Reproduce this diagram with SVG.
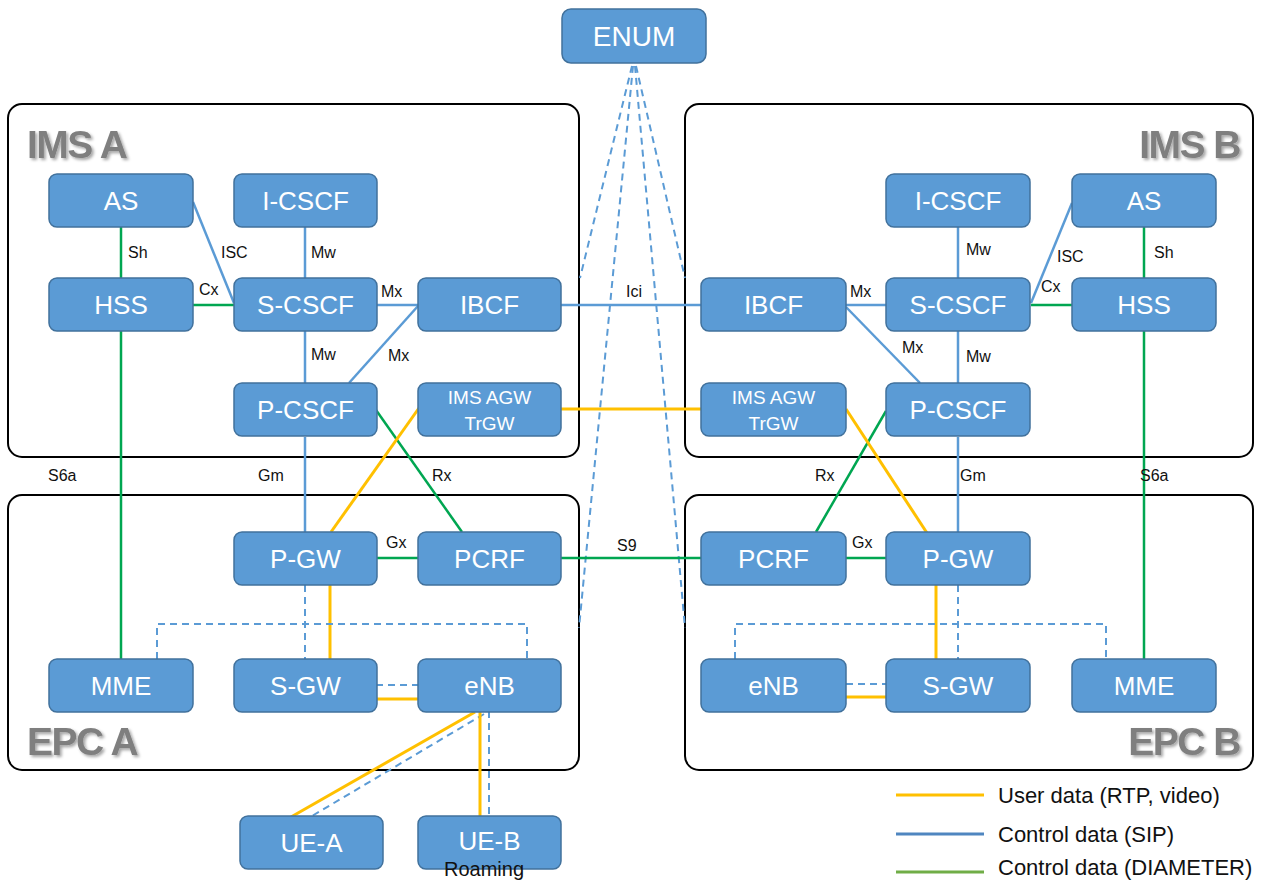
<svg xmlns="http://www.w3.org/2000/svg" width="1274" height="880" viewBox="0 0 1274 880">
<defs>
<style>
.box{fill:#fff;stroke:#000;stroke-width:2}
.node rect{fill:#5B9BD5;stroke:#41719C;stroke-width:1.5}
.node text{fill:#fff;font-family:'Liberation Sans',Arial,sans-serif;font-size:26px;text-anchor:middle}
.node text.sm{font-size:19px}
.title{fill:#7f7f7f;font-family:'Liberation Sans',Arial,sans-serif;font-weight:bold;font-size:39px;letter-spacing:-1.5px}
.lbl{font-family:'Liberation Sans',Arial,sans-serif;font-size:16px;fill:#111}
.leg{font-family:'Liberation Sans',Arial,sans-serif;font-size:22px;fill:#111}
.sip{stroke:#5B9BD5;stroke-width:2.5;fill:none}
.dia{stroke:#00A651;stroke-width:2.5;fill:none}
.usr{stroke:#FFC000;stroke-width:3;fill:none}
.dash{stroke:#5B9BD5;stroke-width:2;stroke-dasharray:7 5;fill:none}
</style>
<filter id="sh" x="-10%" y="-20%" width="130%" height="150%">
<feDropShadow dx="2" dy="2" stdDeviation="1.5" flood-color="#000" flood-opacity="0.35"/>
</filter>
</defs>
<rect width="1274" height="880" fill="#fff"/>

<g id="containers">
<rect class="box" x="8" y="104" width="571" height="353" rx="14"/>
<rect class="box" x="685" y="104" width="568" height="353" rx="14"/>
<rect class="box" x="8" y="495" width="571" height="275" rx="14"/>
<rect class="box" x="685" y="495" width="568" height="275" rx="14"/>
<text class="title" x="27" y="158" filter="url(#sh)">IMS A</text>
<text class="title" x="1240" y="158" text-anchor="end" filter="url(#sh)">IMS B</text>
<text class="title" x="27" y="755" filter="url(#sh)">EPC A</text>
<text class="title" x="1240" y="755" text-anchor="end" filter="url(#sh)">EPC B</text>
</g>

<g id="connectors">
<line class="dash" x1="632" y1="66" x2="580" y2="278"/>
<line class="dash" x1="633" y1="66" x2="579" y2="628"/>
<line class="dash" x1="635" y1="66" x2="685" y2="628"/>
<line class="dash" x1="636" y1="66" x2="685" y2="278"/>
<line class="dia" x1="121" y1="227" x2="121" y2="279"/>
<line class="sip" x1="193" y1="202" x2="234" y2="303"/>
<line class="dia" x1="192" y1="305" x2="234" y2="305"/>
<line class="sip" x1="305" y1="226" x2="305" y2="278"/>
<line class="sip" x1="376" y1="305" x2="418" y2="305"/>
<line class="sip" x1="349" y1="383" x2="418" y2="306"/>
<line class="sip" x1="305" y1="331" x2="305" y2="383"/>
<line class="dia" x1="121" y1="331" x2="121" y2="659"/>
<line class="sip" x1="305" y1="437" x2="305" y2="532"/>
<line class="dia" x1="376" y1="410" x2="462" y2="532"/>
<line class="usr" x1="419" y1="408" x2="331" y2="532"/>
<line class="sip" x1="561" y1="305" x2="701" y2="305"/>
<line class="usr" x1="561" y1="409" x2="701" y2="409"/>
<line class="dia" x1="561" y1="558" x2="701" y2="558"/>
<line class="dia" x1="376" y1="558" x2="418" y2="558"/>
<line class="usr" x1="330" y1="585" x2="330" y2="659"/>
<line class="dash" x1="305" y1="585" x2="305" y2="659"/>
<path class="dash" d="M157,659 V624 H527 V659"/>
<line class="dash" x1="376" y1="685" x2="418" y2="685"/>
<line class="usr" x1="376" y1="699" x2="418" y2="699"/>
<line class="usr" x1="475" y1="712" x2="291" y2="817"/>
<line class="dash" x1="484" y1="714" x2="312" y2="816"/>
<line class="usr" x1="480" y1="711" x2="480" y2="816"/>
<line class="dash" x1="489" y1="711" x2="489" y2="816"/>
<line class="sip" x1="958" y1="226" x2="958" y2="278"/>
<line class="sip" x1="846" y1="305" x2="886" y2="305"/>
<line class="sip" x1="846" y1="307" x2="920" y2="383"/>
<line class="sip" x1="958" y1="331" x2="958" y2="383"/>
<line class="sip" x1="1031" y1="303" x2="1072" y2="203"/>
<line class="dia" x1="1031" y1="305" x2="1072" y2="305"/>
<line class="dia" x1="1144" y1="226" x2="1144" y2="279"/>
<line class="dia" x1="1144" y1="331" x2="1144" y2="659"/>
<line class="dia" x1="886" y1="411" x2="816" y2="532"/>
<line class="usr" x1="846" y1="409" x2="927" y2="533"/>
<line class="sip" x1="958" y1="437" x2="958" y2="532"/>
<line class="dia" x1="846" y1="558" x2="886" y2="558"/>
<line class="usr" x1="936" y1="585" x2="936" y2="659"/>
<line class="dash" x1="958" y1="585" x2="958" y2="659"/>
<path class="dash" d="M735,659 V624 H1106 V659"/>
<line class="dash" x1="846" y1="684" x2="886" y2="684"/>
<line class="usr" x1="846" y1="697" x2="886" y2="697"/>
<text class="lbl" x="128" y="258">Sh</text>
<text class="lbl" x="221" y="258">ISC</text>
<text class="lbl" x="311" y="258">Mw</text>
<text class="lbl" x="199" y="295">Cx</text>
<text class="lbl" x="381" y="297">Mx</text>
<text class="lbl" x="311" y="360">Mw</text>
<text class="lbl" x="388" y="361">Mx</text>
<text class="lbl" x="48" y="481">S6a</text>
<text class="lbl" x="258" y="481">Gm</text>
<text class="lbl" x="432" y="481">Rx</text>
<text class="lbl" x="386" y="548">Gx</text>
<text class="lbl" x="626" y="297">Ici</text>
<text class="lbl" x="617" y="551">S9</text>
<text class="lbl" x="966" y="255">Mw</text>
<text class="lbl" x="1057" y="262">ISC</text>
<text class="lbl" x="1154" y="258">Sh</text>
<text class="lbl" x="850" y="297">Mx</text>
<text class="lbl" x="1041" y="292">Cx</text>
<text class="lbl" x="902" y="353">Mx</text>
<text class="lbl" x="966" y="362">Mw</text>
<text class="lbl" x="815" y="481">Rx</text>
<text class="lbl" x="960" y="481">Gm</text>
<text class="lbl" x="1140" y="481">S6a</text>
<text class="lbl" x="852" y="548">Gx</text>
</g>

<g id="n-enum" class="node"><rect x="562" y="9" width="144" height="54" rx="9"/><text x="634" y="46" style="font-size:28px">ENUM</text></g>

<g id="n-as-a" class="node"><rect x="49" y="174" width="144" height="53" rx="8"/><text x="121" y="210">AS</text></g>
<g id="n-icscf-a" class="node"><rect x="234" y="174" width="143" height="53" rx="8"/><text x="305.5" y="210">I-CSCF</text></g>
<g id="n-hss-a" class="node"><rect x="49" y="278" width="144" height="53" rx="8"/><text x="121" y="314">HSS</text></g>
<g id="n-scscf-a" class="node"><rect x="234" y="278" width="143" height="53" rx="8"/><text x="305.5" y="314">S-CSCF</text></g>
<g id="n-ibcf-a" class="node"><rect x="418" y="278" width="143" height="53" rx="8"/><text x="489.5" y="314">IBCF</text></g>
<g id="n-pcscf-a" class="node"><rect x="234" y="383" width="143" height="53" rx="8"/><text x="305.5" y="419">P-CSCF</text></g>
<g id="n-agw-a" class="node"><rect x="418" y="383" width="143" height="53" rx="8"/><text class="sm" x="489.5" y="404">IMS AGW</text><text class="sm" x="489.5" y="430">TrGW</text></g>

<g id="n-pgw-a" class="node"><rect x="234" y="532" width="143" height="53" rx="8"/><text x="305.5" y="568">P-GW</text></g>
<g id="n-pcrf-a" class="node"><rect x="418" y="532" width="143" height="53" rx="8"/><text x="489.5" y="568">PCRF</text></g>
<g id="n-mme-a" class="node"><rect x="49" y="659" width="144" height="53" rx="8"/><text x="121" y="695">MME</text></g>
<g id="n-sgw-a" class="node"><rect x="234" y="659" width="143" height="53" rx="8"/><text x="305.5" y="695">S-GW</text></g>
<g id="n-enb-a" class="node"><rect x="418" y="659" width="143" height="53" rx="8"/><text x="489.5" y="695">eNB</text></g>
<g id="n-uea" class="node"><rect x="240" y="816" width="143" height="53" rx="8"/><text x="311.5" y="852">UE-A</text></g>
<g id="n-ueb" class="node"><rect x="418" y="816" width="143" height="53" rx="8"/><text x="489.5" y="850">UE-B</text></g>

<g id="n-icscf-b" class="node"><rect x="886" y="174" width="144" height="53" rx="8"/><text x="958" y="210">I-CSCF</text></g>
<g id="n-as-b" class="node"><rect x="1072" y="174" width="144" height="53" rx="8"/><text x="1144" y="210">AS</text></g>
<g id="n-ibcf-b" class="node"><rect x="701" y="278" width="145" height="53" rx="8"/><text x="773.5" y="314">IBCF</text></g>
<g id="n-scscf-b" class="node"><rect x="886" y="278" width="144" height="53" rx="8"/><text x="958" y="314">S-CSCF</text></g>
<g id="n-hss-b" class="node"><rect x="1072" y="278" width="144" height="53" rx="8"/><text x="1144" y="314">HSS</text></g>
<g id="n-agw-b" class="node"><rect x="701" y="383" width="145" height="53" rx="8"/><text class="sm" x="773.5" y="404">IMS AGW</text><text class="sm" x="773.5" y="430">TrGW</text></g>
<g id="n-pcscf-b" class="node"><rect x="886" y="383" width="144" height="53" rx="8"/><text x="958" y="419">P-CSCF</text></g>

<g id="n-pcrf-b" class="node"><rect x="701" y="532" width="145" height="53" rx="8"/><text x="773.5" y="568">PCRF</text></g>
<g id="n-pgw-b" class="node"><rect x="886" y="532" width="144" height="53" rx="8"/><text x="958" y="568">P-GW</text></g>
<g id="n-enb-b" class="node"><rect x="701" y="659" width="145" height="53" rx="8"/><text x="773.5" y="695">eNB</text></g>
<g id="n-sgw-b" class="node"><rect x="886" y="659" width="144" height="53" rx="8"/><text x="958" y="695">S-GW</text></g>
<g id="n-mme-b" class="node"><rect x="1072" y="659" width="144" height="53" rx="8"/><text x="1144" y="695">MME</text></g>

<text id="roaming" x="444" y="876" style="font-family:'Liberation Sans',Arial,sans-serif;font-size:20px;fill:#111">Roaming</text>

<g id="legend">
<line x1="896" y1="795" x2="984" y2="795" stroke="#FFC000" stroke-width="3"/>
<line x1="896" y1="834" x2="984" y2="834" stroke="#4F86C0" stroke-width="3"/>
<line x1="896" y1="872" x2="984" y2="872" stroke="#70AD47" stroke-width="3"/>
<text class="leg" x="998" y="803">User data (RTP, video)</text>
<text class="leg" x="998" y="842">Control data (SIP)</text>
<text class="leg" x="998" y="875">Control data (DIAMETER)</text>
</g>
</svg>
